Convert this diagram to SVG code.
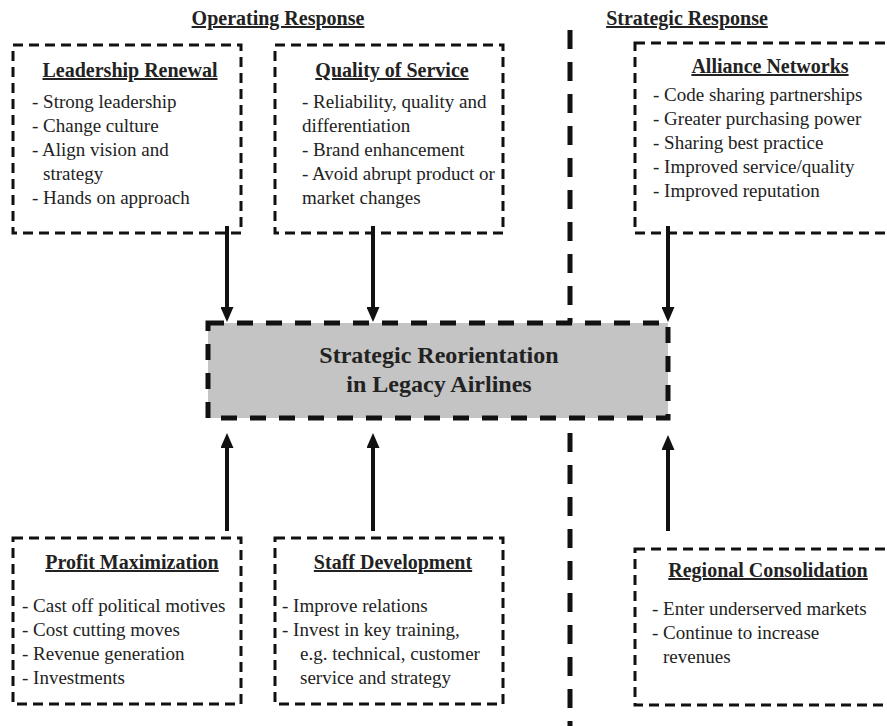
<svg xmlns="http://www.w3.org/2000/svg" width="887" height="726" viewBox="0 0 887 726">
<style>
  .box { fill: none; stroke: #111; stroke-width: 3; stroke-dasharray: 10 6; }
  .core { fill: #c4c4c4; stroke: #111; stroke-width: 5; stroke-dasharray: 16 13; }
  .sep { stroke: #111; stroke-width: 5; stroke-dasharray: 19 13; fill: none; }
  .arrow { stroke: #111; stroke-width: 4; fill: none; }
  .head { font-family: "Liberation Serif", "Times New Roman", serif; font-weight: bold; font-size: 20px; fill: #222; text-anchor: middle; text-decoration: underline; }
  .title { font-family: "Liberation Serif", "Times New Roman", serif; font-weight: bold; font-size: 20px; fill: #222; text-anchor: middle; text-decoration: underline; }
  .body { font-family: "Liberation Serif", "Times New Roman", serif; font-size: 19px; fill: #222; }
  .core-text { font-family: "Liberation Serif", "Times New Roman", serif; font-weight: bold; font-size: 24px; fill: #222; text-anchor: middle; }
</style>
<defs>
  <marker id="ah" viewBox="0 0 15 13" refX="2" refY="6.5" markerWidth="15" markerHeight="13" markerUnits="userSpaceOnUse" orient="auto">
    <path d="M0,0 L15,6.5 L0,13 z" fill="#111"/>
  </marker>
</defs>

<g id="headers">
  <text class="head" x="278" y="25">Operating Response</text>
  <text class="head" x="687" y="25">Strategic Response</text>
</g>

<g id="separator">
  <line class="sep" x1="570" y1="30" x2="570" y2="323"/>
  <line class="sep" x1="570" y1="433" x2="570" y2="730"/>
</g>

<g id="connectors">
  <line class="arrow" x1="227" y1="226" x2="227" y2="309" marker-end="url(#ah)"/>
  <line class="arrow" x1="373" y1="226" x2="373" y2="309" marker-end="url(#ah)"/>
  <line class="arrow" x1="668" y1="226" x2="668" y2="309" marker-end="url(#ah)"/>
  <line class="arrow" x1="227" y1="531" x2="227" y2="446" marker-end="url(#ah)"/>
  <line class="arrow" x1="373" y1="531" x2="373" y2="446" marker-end="url(#ah)"/>
  <line class="arrow" x1="668" y1="531" x2="668" y2="448" marker-end="url(#ah)"/>
</g>

<g id="core">
  <rect class="core" x="208" y="323" width="460" height="95"/>
  <text class="core-text" x="439" y="363">Strategic Reorientation</text>
  <text class="core-text" x="439" y="392">in Legacy Airlines</text>
</g>

<g id="leadership-renewal">
  <rect class="box" x="13" y="45" width="228" height="188"/>
  <text class="title" x="130" y="77">Leadership Renewal</text>
  <text class="body" x="32" y="108">- Strong leadership</text>
  <text class="body" x="32" y="132">- Change culture</text>
  <text class="body" x="32" y="156">- Align vision and</text>
  <text class="body" x="43" y="180">strategy</text>
  <text class="body" x="32" y="204">- Hands on approach</text>
</g>

<g id="quality-of-service">
  <rect class="box" x="275" y="45" width="228" height="188"/>
  <text class="title" x="392" y="77">Quality of Service</text>
  <text class="body" x="302" y="108">- Reliability, quality and</text>
  <text class="body" x="302" y="132">differentiation</text>
  <text class="body" x="302" y="156">- Brand enhancement</text>
  <text class="body" x="302" y="180">- Avoid abrupt product or</text>
  <text class="body" x="302" y="204">market changes</text>
</g>

<g id="alliance-networks">
  <rect class="box" x="635" y="43" width="270" height="190"/>
  <text class="title" x="770" y="73">Alliance Networks</text>
  <text class="body" x="653" y="101">- Code sharing partnerships</text>
  <text class="body" x="653" y="125">- Greater purchasing power</text>
  <text class="body" x="653" y="149">- Sharing best practice</text>
  <text class="body" x="653" y="173">- Improved service/quality</text>
  <text class="body" x="653" y="197">- Improved reputation</text>
</g>

<g id="profit-maximization">
  <rect class="box" x="13" y="538" width="228" height="166"/>
  <text class="title" x="132" y="569">Profit Maximization</text>
  <text class="body" x="22" y="612">- Cast off political motives</text>
  <text class="body" x="22" y="636">- Cost cutting moves</text>
  <text class="body" x="22" y="660">- Revenue generation</text>
  <text class="body" x="22" y="684">- Investments</text>
</g>

<g id="staff-development">
  <rect class="box" x="275" y="538" width="228" height="166"/>
  <text class="title" x="393" y="569">Staff Development</text>
  <text class="body" x="282" y="612">- Improve relations</text>
  <text class="body" x="282" y="636">- Invest in key training,</text>
  <text class="body" x="300" y="660">e.g. technical, customer</text>
  <text class="body" x="300" y="684">service and strategy</text>
</g>

<g id="regional-consolidation">
  <rect class="box" x="635" y="549" width="270" height="156"/>
  <text class="title" x="768" y="577">Regional Consolidation</text>
  <text class="body" x="652" y="615">- Enter underserved markets</text>
  <text class="body" x="652" y="639">- Continue to increase</text>
  <text class="body" x="663" y="663">revenues</text>
</g>
</svg>
